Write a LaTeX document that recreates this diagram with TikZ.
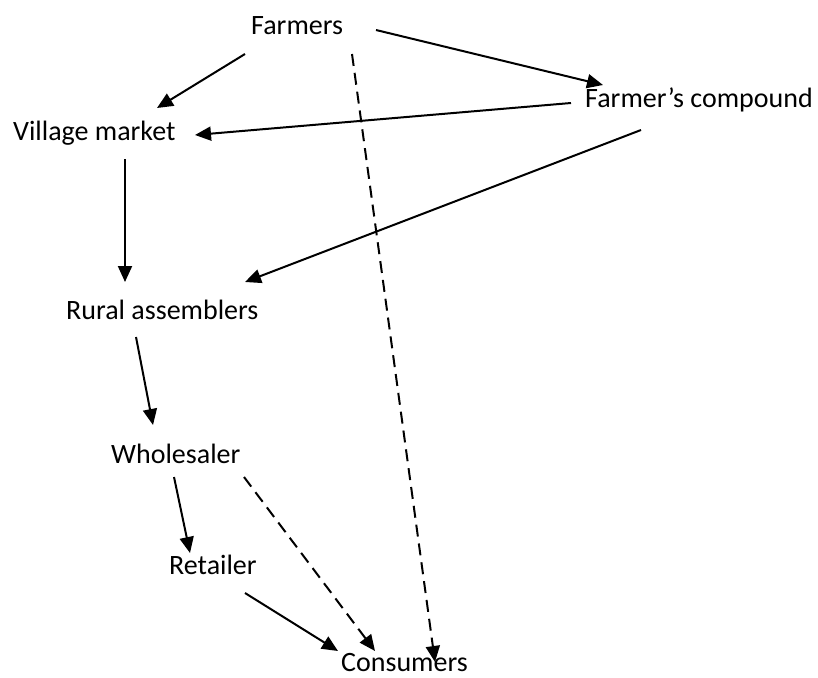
\documentclass[tikz,border=0pt]{standalone}
\usepackage{fontspec}
\setmainfont{Carlito}
\usetikzlibrary{arrows.meta,positioning}

\begin{document}
\begin{tikzpicture}[x=1pt, y=-1pt,
    lbl/.style={anchor=base west, inner sep=0pt, font=\fontsize{28}{33}\selectfont},
    flow/.style={line width=2pt, -{Triangle[length=16pt,width=14pt]}},
    direct/.style={flow, dash pattern=on 12pt off 7pt}]
\useasboundingbox (0,0) rectangle (818,677);

% labels (base line of each text)
\node[lbl] (farmers)   at (251,35)  {Farmers};
\node[lbl] (compound)  at (585,107) {Farmer's compound};
\node[lbl] (village)   at (13,140)  {Village market};
\node[lbl] (rural)     at (66,319)  {Rural assemblers};
\node[lbl] (wholesale) at (111,463) {Wholesaler};
\node[lbl] (retail)    at (169,574) {Retailer};
\node[lbl] (consumer)  at (341,671) {Consumers};

% arrow ends
\coordinate (farmersL) at (245,54);
\coordinate (farmersR) at (376,30);
\coordinate (farmersD) at (352,54);
\coordinate (compIn)   at (603,85);
\coordinate (compL)    at (571,103);
\coordinate (compD)    at (641,130);
\coordinate (villIn)   at (157,108);
\coordinate (villR)    at (195,135);
\coordinate (villD)    at (125,159);
\coordinate (ruralIn)  at (125,282);
\coordinate (ruralR)   at (245,282);
\coordinate (ruralD)   at (136,337);
\coordinate (wholeIn)  at (153,425);
\coordinate (wholeD)   at (174,477);
\coordinate (wholeR)   at (244,477);
\coordinate (retIn)    at (190,553);
\coordinate (retD)     at (245,593);
\coordinate (consL)    at (338,651);
\coordinate (consM)    at (375,651);
\coordinate (consR)    at (435,662);

% solid flows
\draw[flow] (farmersL) -- (villIn);
\draw[flow] (farmersR) -- (compIn);
\draw[flow] (compL) -- (villR);
\draw[flow] (compD) -- (ruralR);
\draw[flow] (villD) -- (ruralIn);
\draw[flow] (ruralD) -- (wholeIn);
\draw[flow] (wholeD) -- (retIn);
\draw[flow] (retD) -- (consL);

% dashed flows
\draw[direct] (farmersD) -- (consR);
\draw[direct] (wholeR) -- (consM);

\end{tikzpicture}
\end{document}
